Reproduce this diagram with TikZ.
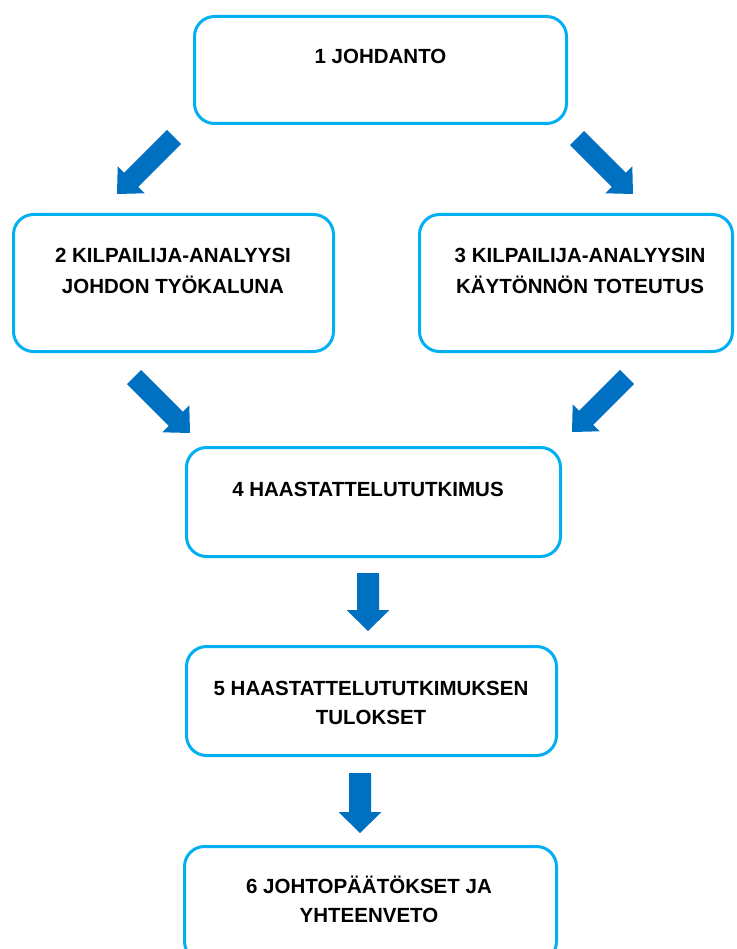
\documentclass[tikz,border=0pt]{standalone}
\usepackage{fontspec}
\setmainfont{Liberation Sans}
\usetikzlibrary{calc}
\definecolor{boxline}{HTML}{00B0F0}
\definecolor{arrowblue}{HTML}{0070C0}
% Block arrow: #1 name, #2 tail, #3 tip, #4 half shaft width, #5 half head width, #6 head length
\newcommand\flowarrow[6]{%
  \coordinate (#1-base) at ($(#3)!#6!(#2)$);
  \fill[arrowblue] ($(#2)!#4!90:(#3)$) -- ($(#1-base)!#4!90:(#3)$)
    -- ($(#1-base)!#5!90:(#3)$) -- (#3) -- ($(#1-base)!#5!-90:(#3)$)
    -- ($(#1-base)!#4!-90:(#3)$) -- ($(#2)!#4!-90:(#3)$) -- cycle;
}
\begin{document}
\begin{tikzpicture}[x=1pt,y=-1pt,
  box/.style={draw=boxline, line width=3pt, rounded corners=20pt, fill=white, inner sep=0pt},
  boxtext/.style={font=\bfseries\fontsize{20.5}{30}\selectfont, align=center, inner sep=0pt, anchor=base}]
\useasboundingbox (0,0) rectangle (736,949);
\clip (0,0) rectangle (736,949);

% chapter boxes
\node[box, minimum width=372pt, minimum height=107pt] (b1) at (380.5,70) {};
\node[box, minimum width=320pt, minimum height=137pt] (b2) at (173.5,283) {};
\node[box, minimum width=313pt, minimum height=137pt] (b3) at (576,283) {};
\node[box, minimum width=374pt, minimum height=109pt] (b4) at (373.5,502) {};
\node[box, minimum width=370pt, minimum height=109pt] (b5) at (371.5,701) {};
\node[box, minimum width=372pt, minimum height=115pt] (b6) at (370.5,904) {};

% chapter titles (base anchor sits on the last line)
\node[boxtext] (t1) at (380.5,63.5) {1 JOHDANTO};
\node[boxtext] (t2) at (173,293) {2 KILPAILIJA-ANALYYSI\\JOHDON TYÖKALUNA};
\node[boxtext] (t3) at (580,293) {3 KILPAILIJA-ANALYYSIN\\KÄYTÖNNÖN TOTEUTUS};
\node[boxtext] (t4) at (368,496) {4 HAASTATTELUTUTKIMUS};
\node[boxtext, font=\bfseries\fontsize{20.5}{29}\selectfont] (t5) at (371,724.5) {5 HAASTATTELUTUTKIMUKSEN\\TULOKSET};
\node[boxtext, font=\bfseries\fontsize{20.5}{29}\selectfont] (t6) at (369,922) {6 JOHTOPÄÄTÖKSET JA\\YHTEENVETO};

% arrow end points
\coordinate (a12s) at (174,137);  \coordinate (a12e) at (117,194);
\coordinate (a13s) at (577,138);  \coordinate (a13e) at (633,194);
\coordinate (a24s) at (134,377);  \coordinate (a24e) at (190,433);
\coordinate (a34s) at (627,377);  \coordinate (a34e) at (572,432);
\coordinate (a45s) at (368,573);  \coordinate (a45e) at (368,631);
\coordinate (a56s) at (360,773);  \coordinate (a56e) at (360,833);

% block arrows
\flowarrow{a12}{a12s}{a12e}{10pt}{19pt}{20pt}
\flowarrow{a13}{a13s}{a13e}{10pt}{19pt}{20pt}
\flowarrow{a24}{a24s}{a24e}{10pt}{19pt}{20pt}
\flowarrow{a34}{a34s}{a34e}{10pt}{19pt}{20pt}
\flowarrow{a45}{a45s}{a45e}{11pt}{21.5pt}{21pt}
\flowarrow{a56}{a56s}{a56e}{11pt}{21.5pt}{21pt}
\end{tikzpicture}
\end{document}
